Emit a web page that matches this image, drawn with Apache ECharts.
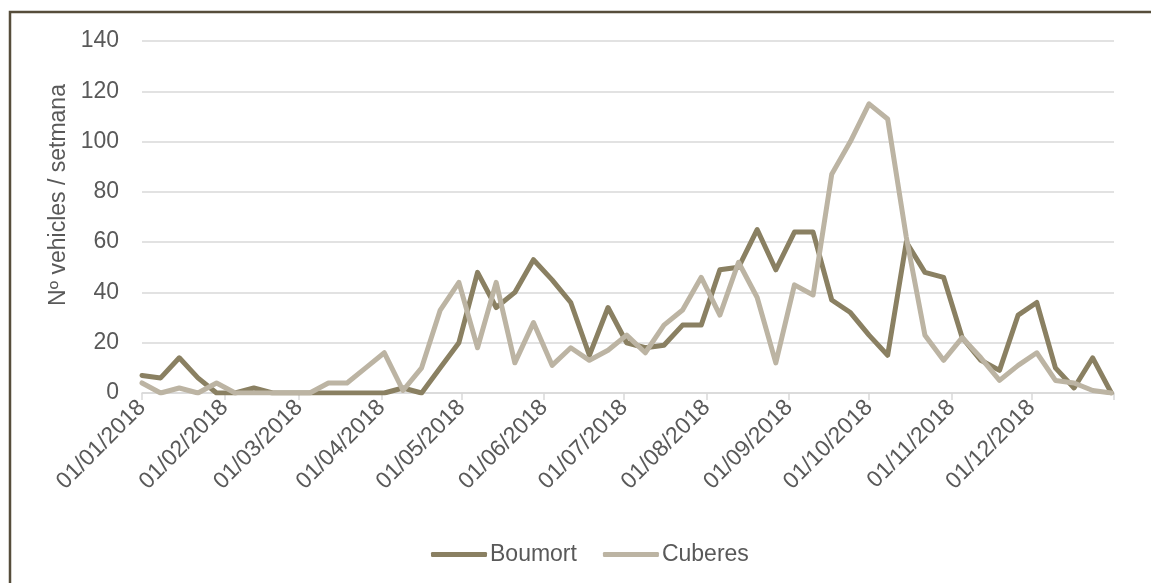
<!DOCTYPE html>
<html>
<head>
<meta charset="utf-8">
<script src="https://cdn.jsdelivr.net/npm/echarts@6/dist/echarts.min.js"></script>
<style>
  html, body { margin: 0; padding: 0; background: #fff; }
  #chart { width: 1151px; height: 583px; }
</style>
</head>
<body>
<div id="chart"></div>
<script>
// weekly counts, first week starts 01/01/2018
var firstWeek = [2018, 0, 1];
var boumort = [7, 6, 14, 6, 0, 0, 2, 0, 0, 0, 0, 0, 0, 0, 2, 0, 10, 20, 48, 34, 40, 53, 45, 36, 15, 34,
  20, 18, 19, 27, 27, 49, 50, 65, 49, 64, 64, 37, 32, 23, 15, 60, 48, 46, 22, 13, 9, 31, 36, 10, 2, 14, 0];
var cuberes = [4, 0, 2, 0, 4, 0, 0, 0, 0, 0, 4, 4, 10, 16, 1, 10, 33, 44, 18, 44, 12, 28, 11, 18, 13, 17,
  23, 16, 27, 33, 46, 31, 52, 38, 12, 43, 39, 87, 100, 115, 109, 62, 23, 13, 22, 14, 5, 11, 16, 5, 4, 1, 0];
var monthLabels = ['01/01/2018', '01/02/2018', '01/03/2018', '01/04/2018', '01/05/2018', '01/06/2018',
  '01/07/2018', '01/08/2018', '01/09/2018', '01/10/2018', '01/11/2018', '01/12/2018'];
var yTicks = [0, 20, 40, 60, 80, 100, 120, 140];

var textColor = '#595959';
var font = 'Liberation Sans, Arial, sans-serif';
var fs = 23;

function parseDay(s) {
  var p = s.split('/');
  return new Date(+p[2], +p[1] - 1, +p[0]).getTime();
}
function pad(n) { return n < 10 ? '0' + n : '' + n; }
function fmtDay(v) {
  var d = new Date(v);
  return pad(d.getDate()) + '/' + pad(d.getMonth() + 1) + '/' + d.getFullYear();
}

var weeks = boumort.map(function (v, i) {
  return new Date(firstWeek[0], firstWeek[1], firstWeek[2] + 7 * i).getTime();
});
var labelValues = monthLabels.map(parseDay);
var tickValues = labelValues.concat([parseDay('01/01/2019')]);

var chart = echarts.init(document.getElementById('chart'));
chart.setOption({
  animation: false,
  textStyle: { fontFamily: font },
  grid: { left: 142, right: 37, top: 41, bottom: 190 },
  graphic: [{
    type: 'rect',
    shape: { x: 10, y: 12, width: 1300, height: 700 },
    style: { fill: 'none', stroke: '#564d3b', lineWidth: 2.5 },
    silent: true
  }],
  legend: {
    left: 426,
    top: 538,
    itemWidth: 56,
    itemHeight: 5,
    itemGap: 26,
    icon: 'roundRect',
    textStyle: { color: textColor, fontSize: fs, fontFamily: font, padding: [0, 0, 0, -2] },
    data: ['Boumort', 'Cuberes']
  },
  xAxis: {
    type: 'value',
    min: tickValues[0],
    max: tickValues[tickValues.length - 1],
    axisLine: { lineStyle: { color: '#d9d9d9', width: 1.5 } },
    axisTick: { show: true, length: 7, customValues: tickValues, lineStyle: { color: '#d9d9d9', width: 1.5 } },
    axisLabel: {
      customValues: labelValues,
      rotate: 45,
      color: textColor,
      fontSize: fs,
      fontFamily: font,
      margin: 11,
      formatter: fmtDay
    },
    splitLine: { show: false }
  },
  yAxis: {
    type: 'value',
    min: yTicks[0],
    max: yTicks[yTicks.length - 1],
    interval: 20,
    name: 'Nº vehicles / setmana',
    nameLocation: 'middle',
    nameGap: 70,
    nameTextStyle: { color: textColor, fontSize: fs, fontFamily: font, padding: [0, 0, 0, 44] },
    axisLine: { show: false },
    axisTick: { show: false },
    axisLabel: { color: textColor, fontSize: fs, fontFamily: font, margin: 23 },
    splitLine: { lineStyle: { color: '#d9d9d9', width: 1.5 } }
  },
  series: [{
    name: 'Boumort',
    type: 'line',
    data: weeks.map(function (t, i) { return [t, boumort[i]]; }),
    symbol: 'none',
    color: '#8a8062',
    lineStyle: { width: 5, join: 'round', cap: 'round' },
    z: 3
  }, {
    name: 'Cuberes',
    type: 'line',
    data: weeks.map(function (t, i) { return [t, cuberes[i]]; }),
    symbol: 'none',
    color: '#bcb4a3',
    lineStyle: { width: 5, join: 'round', cap: 'round' },
    z: 4
  }]
});
</script>
</body>
</html>
